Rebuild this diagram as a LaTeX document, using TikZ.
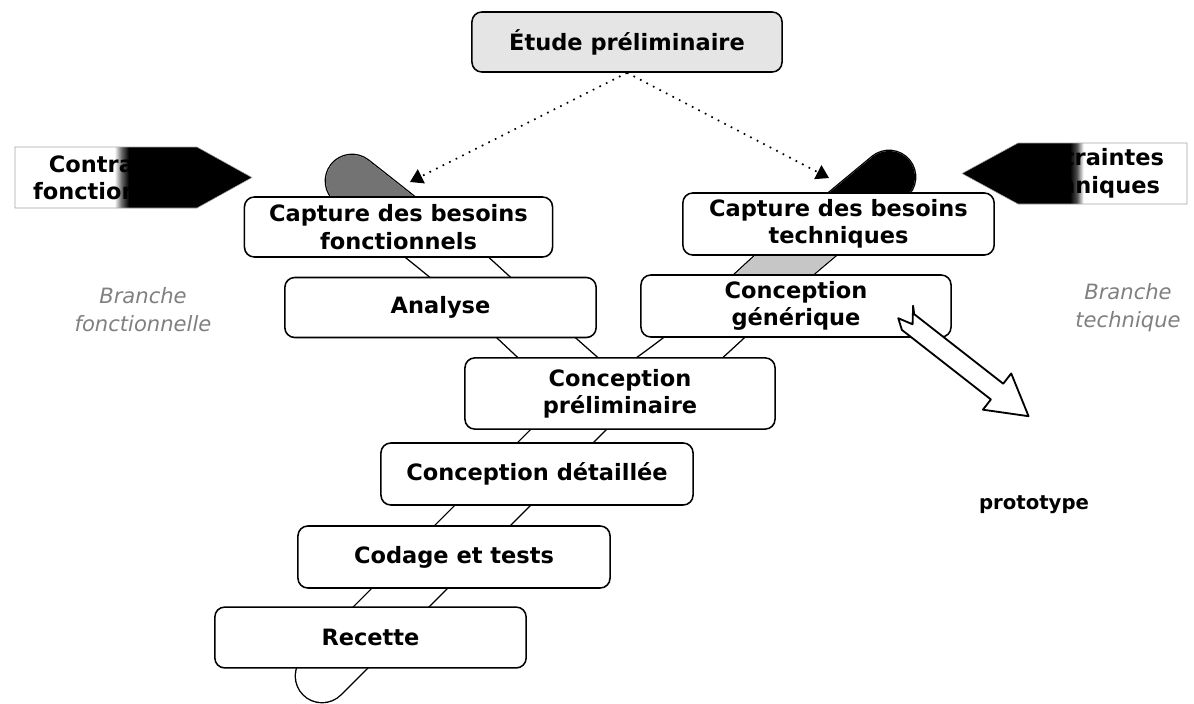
\documentclass[tikz,border=0pt]{standalone}
\usepackage{fontspec}
\setmainfont{DejaVu Sans}
\usetikzlibrary{arrows.meta, calc}
\pgfdeclarehorizontalshading{ctrfadeL}{100bp}{color(0bp)=(white); color(46bp)=(white);
  color(47.5bp)=(black!60); color(49bp)=(black); color(100bp)=(black)}
\pgfdeclarehorizontalshading{ctrfadeR}{100bp}{color(0bp)=(black); color(49bp)=(black);
  color(50.5bp)=(black!70); color(52bp)=(white); color(100bp)=(white)}

\begin{document}
\begin{tikzpicture}[
    x=0.025cm, y=-0.025cm,
    phase/.style={rectangle, draw, rounded corners=7pt, line width=1.1pt,
                  fill=white, minimum width=7.75cm, minimum height=1.5cm,
                  font=\fontsize{16}{19.5}\selectfont\bfseries, align=center},
    ctrtext/.style={font=\fontsize{16}{19.5}\selectfont\bfseries, align=center},
    ctrbox/.style={draw=gray!70},
    branche/.style={font=\fontsize{15}{20}\selectfont\itshape, text=black!50,
                    align=center},
    dotarrow/.style={loosely dotted, line width=1.2pt,
                     -{Triangle[length=9pt, width=11pt]}},
    bandedge/.style={line width=1.37cm, line cap=round},
    bandfill/.style={line width=1.3cm, line cap=round, white},
    bigarrow/.style={draw, line width=1.3pt, fill=white, line join=round},
]
\useasboundingbox (0,0) rectangle (1194,703);

% ── Y band ──
\coordinate (capL) at (352,181);
\coordinate (midL) at (458,266);
\coordinate (lowL) at (548,349);
\coordinate (junL) at (600,395);
\coordinate (capR) at (889,177);
\coordinate (midR) at (784,265);
\coordinate (lowR) at (692,349);
\coordinate (junR) at (630,395);
\coordinate (junT) at (600,398);
\coordinate (capB) at (322,676);

\draw[bandedge] plot[smooth] coordinates {(capL) (midL) (lowL) (junL)};
\draw[bandedge] plot[smooth] coordinates {(capR) (midR) (lowR) (junR)};
\draw[bandedge] (junT) -- (capB);
\draw[bandfill] plot[smooth] coordinates {(capL) (midL) (lowL) (junL)};
\draw[bandfill] plot[smooth] coordinates {(capR) (midR) (lowR) (junR)};
\draw[bandfill] (junT) -- (capB);
\begin{scope}
  \clip (0,0) rectangle (1194,197);
  \draw[bandfill, black!55] plot[smooth] coordinates {(capL) (midL) (lowL) (junL)};
\end{scope}
\begin{scope}
  \clip (0,0) rectangle (1194,193);
  \draw[bandfill, black] plot[smooth] coordinates {(capR) (midR) (lowR) (junR)};
\end{scope}
\begin{scope}
  \clip (0,255) rectangle (1194,275);
  \draw[bandfill, gray!45] plot[smooth] coordinates {(capR) (midR) (lowR) (junR)};
\end{scope}

% ── Phases ──
\node[phase, fill=gray!20] (etude) at (627,42) {Étude préliminaire};
\node[phase, minimum width=7.7cm] (capfonc) at (398.5,227) {Capture des besoins\\fonctionnels};
\node[phase, minimum width=7.78cm, minimum height=1.55cm] (captech) at (838.5,224) {Capture des besoins\\techniques};
\node[phase, minimum width=7.78cm] (analyse) at (440.5,307.5) {Analyse};
\node[phase, minimum height=1.55cm] (concgen) at (796,306) {Conception\\générique};
\node[phase, minimum height=1.78cm] (concprel) at (620,393.5) {Conception\\préliminaire};
\node[phase, minimum width=7.8cm, minimum height=1.55cm] (concdet) at (537,474) {Conception détaillée};
\node[phase, minimum width=7.8cm, minimum height=1.55cm] (codage) at (454,557) {Codage et tests};
\node[phase, minimum width=7.78cm, minimum height=1.52cm] (recette) at (370.5,637.5) {Recette};

% ── Contraintes ──
\shadedraw[ctrbox, shading=ctrfadeL] (15,147) -- (197,147) -- (252,177.5) -- (197,208) -- (15,208) -- cycle;
\node[ctrtext] (ctrfonc) at (123,177.5) {Contraintes\\fonctionnelles};
\shadedraw[ctrbox, shading=ctrfadeR] (1187,143) -- (1018,143) -- (962,173.5) -- (1018,204) -- (1187,204) -- cycle;
\node[ctrtext] (ctrtech) at (1090,173.5) {Contraintes\\techniques};

% ── Branches ──
\node[branche] (brfonc) at (143,310) {Branche\\fonctionnelle};
\node[branche] (brtech) at (1128,308) {Branche\\technique};

% ── Arrows ──
\coordinate (tipfonc) at (410,182);
\coordinate (tiptech) at (829,178);
\draw[dotarrow] (etude.south) -- (tipfonc);
\draw[dotarrow] (etude.south) -- (tiptech);

\begin{scope}[shift={(908,322)}, rotate=-38]
  \draw[bigarrow] (0,-10) -- (113,-10) -- (113,-23) -- (153,0) -- (113,23) -- (113,10)
    -- (0,10) -- (-10,3) -- (5,-1) -- (-6,-16) -- cycle;
\end{scope}
\node[font=\fontsize{14}{17}\selectfont\bfseries] (proto) at (1034,505) {prototype};

\end{tikzpicture}
\end{document}
